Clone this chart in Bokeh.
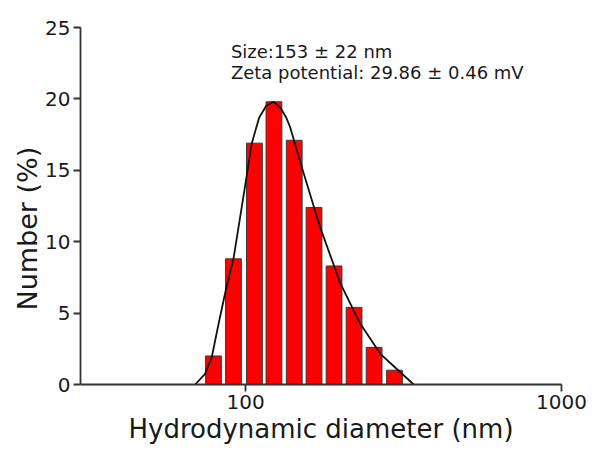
from bokeh.plotting import figure
from bokeh.models import FixedTicker, NumeralTickFormatter, Label, Title
from bokeh.embed import file_html
from bokeh.resources import INLINE

# ---- data ----
diameter_nm = [79.1, 91.5, 106.6, 122.9, 142.5, 164.6, 190.5, 220.4, 255.1, 296.0]
number_pct = [2.0, 8.8, 16.9, 19.8, 17.1, 12.4, 8.3, 5.4, 2.6, 1.0]

fit_x_nm = [69.2, 74.4, 78.1, 82.0, 86.5, 91.5, 99.1, 104.6, 110.4, 116.1, 122.5,
            128.7, 134.4, 138.4, 150.7, 172.2, 199.3, 230.7, 266.9, 308.9, 340.4]
fit_y_pct = [0.0, 0.75, 1.9, 4.2, 6.6, 8.8, 13.6, 16.9, 18.7, 19.5, 19.8,
             19.4, 18.7, 18.0, 15.2, 11.0, 7.1, 4.25, 2.15, 0.86, 0.0]

x_ticks = [100, 1000]
y_ticks = [0, 5, 10, 15, 20, 25]

size_text = "Size:153 \u00b1 22 nm"
zeta_text = "Zeta potential: 29.86 \u00b1 0.46 mV"
x_title = "Hydrodynamic diameter (nm)"
y_title = "Number (%)"

# ---- layout / style ----
FONT = "DejaVu Sans"
TXT = "#1a1a1a"
AX = "#333333"
BIN_HALF = 10 ** 0.025  # half bar width as a ratio on the log axis

left = [d / BIN_HALF for d in diameter_nm]
right = [d * BIN_HALF for d in diameter_nm]

p = figure(width=592, height=450, x_axis_type="log",
           x_range=(30, 1000), y_range=(0, 25),
           output_backend="svg", toolbar_location=None,
           min_border_left=80, min_border_right=31,
           min_border_top=27, min_border_bottom=66)

p.background_fill_color = "white"
p.border_fill_color = "white"
p.outline_line_color = None
p.xgrid.visible = False
p.ygrid.visible = False

p.quad(left=left, right=right, top=number_pct, bottom=0,
       fill_color="#ff0000", line_color="#3a3a3a", line_width=1)
p.line(fit_x_nm, fit_y_pct, line_color="#111111", line_width=1.8)

p.xaxis.ticker = FixedTicker(ticks=x_ticks, minor_ticks=[])
p.xaxis.formatter = NumeralTickFormatter(format="0")
p.yaxis.ticker = FixedTicker(ticks=y_ticks, minor_ticks=[])

for ax in (p.xaxis, p.yaxis):
    ax.axis_line_color = AX
    ax.axis_line_width = 1.8
    ax.major_tick_line_color = AX
    ax.major_tick_line_width = 1.8
    ax.major_tick_out = 7
    ax.major_tick_in = 0
    ax.minor_tick_line_color = None
    ax.major_label_text_font = FONT
    ax.major_label_text_font_size = "20px"
    ax.major_label_text_color = TXT
    ax.major_label_standoff = 3

p.xaxis.axis_label = x_title
p.xaxis.axis_label_text_font = FONT
p.xaxis.axis_label_text_font_size = "26px"
p.xaxis.axis_label_text_font_style = "normal"
p.xaxis.axis_label_text_color = TXT
p.xaxis.axis_label_standoff = 2

p.add_layout(Title(text=y_title, align="left", offset=74, standoff=0,
                   vertical_align="bottom", text_font=FONT,
                   text_font_size="27px", text_font_style="normal",
                   text_color=TXT), "left")

p.add_layout(Label(x=89.8, y=23.34, text=size_text, text_font=FONT,
                   text_font_size="18px", text_color=TXT,
                   text_align="left", text_baseline="alphabetic"))
p.add_layout(Label(x=89.8, y=21.83, text=zeta_text, text_font=FONT,
                   text_font_size="18px", text_color=TXT,
                   text_align="left", text_baseline="alphabetic"))

open("out.html", "w").write(file_html(p, INLINE))
